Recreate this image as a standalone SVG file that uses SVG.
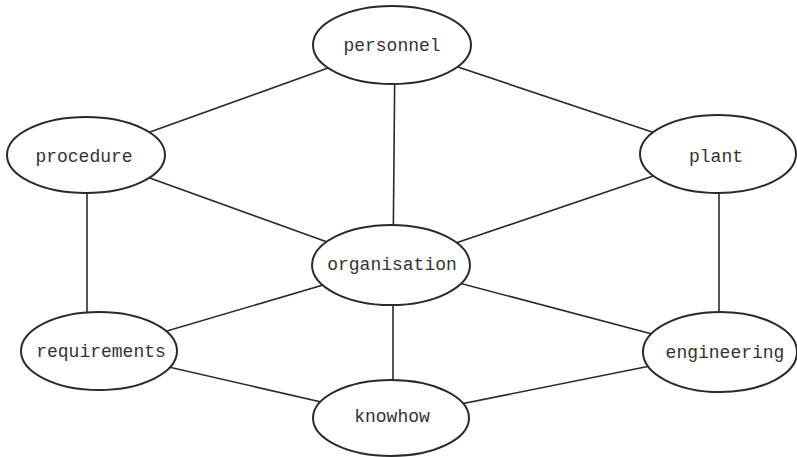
<svg xmlns="http://www.w3.org/2000/svg" width="797" height="457" viewBox="0 0 797 457">
<style>
.n ellipse{fill:#fff;stroke:#2a2a2a;stroke-width:2}
.n text{font-family:"Liberation Mono","DejaVu Sans Mono",monospace;font-size:18px;fill:#333;text-anchor:middle;dominant-baseline:central}
#edges line{stroke:#2a2a2a;stroke-width:1.6}
</style>
<rect width="797" height="457" fill="#fff"/>
<g id="edges">
<line x1="392" y1="45" x2="86" y2="155"/>
<line x1="392" y1="45" x2="718" y2="154"/>
<line x1="395" y1="45" x2="393" y2="265"/>
<line x1="86" y1="155" x2="391" y2="265"/>
<line x1="718" y1="154" x2="391" y2="265"/>
<line x1="87" y1="155" x2="87" y2="351"/>
<line x1="719" y1="154" x2="719" y2="352"/>
<line x1="391" y1="265" x2="99" y2="351"/>
<line x1="391" y1="265" x2="720" y2="352"/>
<line x1="393" y1="265" x2="393" y2="418"/>
<line x1="99" y1="351" x2="391" y2="418"/>
<line x1="720" y1="352" x2="391" y2="418"/>
</g>
<g id="personnel" class="n"><ellipse cx="392" cy="45" rx="79" ry="39"/><text x="392" y="46">personnel</text></g>
<g id="procedure" class="n"><ellipse cx="86" cy="155" rx="79" ry="38"/><text x="84" y="157">procedure</text></g>
<g id="plant" class="n"><ellipse cx="718" cy="154" rx="78" ry="39"/><text x="716" y="157">plant</text></g>
<g id="organisation" class="n"><ellipse cx="391" cy="265" rx="79" ry="40"/><text x="392" y="265">organisation</text></g>
<g id="requirements" class="n"><ellipse cx="99" cy="351" rx="78" ry="39"/><text x="101" y="352">requirements</text></g>
<g id="engineering" class="n"><ellipse cx="720" cy="352" rx="77" ry="40"/><text x="725" y="353">engineering</text></g>
<g id="knowhow" class="n"><ellipse cx="391" cy="418" rx="78" ry="38"/><text x="392" y="417">knowhow</text></g>
</svg>
